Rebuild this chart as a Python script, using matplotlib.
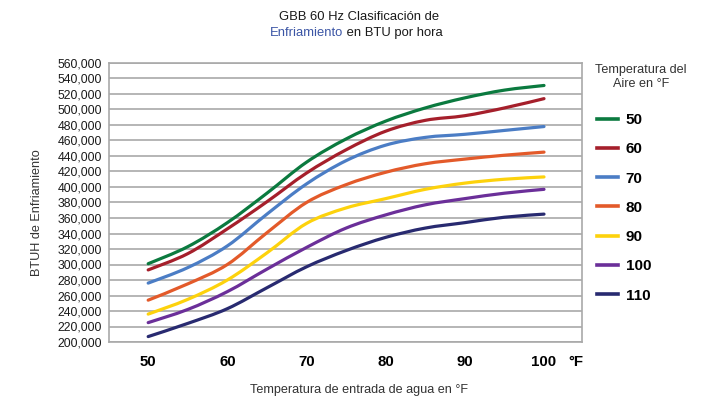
import matplotlib
matplotlib.use("Agg")
import matplotlib.pyplot as plt
from matplotlib.path import Path
from matplotlib.patches import PathPatch
from matplotlib.lines import Line2D
from matplotlib.ticker import FuncFormatter

plt.rcParams['font.family'] = ['Liberation Sans', 'DejaVu Sans']

# ---- data ----
water_temp = [50, 55, 60, 65, 70, 75, 80, 85, 90, 95, 100]
air_temps = ["50", "60", "70", "80", "90", "100", "110"]
btuh_50 = [301000, 323000, 354000, 392000, 432000, 462000, 485000, 502000, 515000, 525000, 531000]
btuh_60 = [293000, 314000, 346000, 381000, 418000, 448000, 472000, 486000, 492000, 502000, 514000]
btuh_70 = [276000, 296000, 324000, 365000, 404000, 434000, 454000, 464000, 468000, 473000, 478000]
btuh_80 = [254000, 275000, 300000, 341000, 380000, 403000, 419000, 430000, 436000, 441000, 445000]
btuh_90 = [236000, 255000, 280000, 315000, 353000, 373000, 385000, 397000, 405000, 410000, 413000]
btuh_100 = [225000, 242000, 265000, 294000, 322000, 347000, 364000, 377000, 385000, 392000, 397000]
btuh_110 = [207000, 224000, 243000, 270000, 297000, 318000, 335000, 347000, 354000, 361000, 365000]
series = [btuh_50, btuh_60, btuh_70, btuh_80, btuh_90, btuh_100, btuh_110]
colors = ["#0b7a3f", "#a51f2b", "#4b7dc5", "#e35a2a", "#fdd20c", "#6b2f99", "#282a70"]
x_ticks = [50, 60, 70, 80, 90, 100]
y_ticks = list(range(200000, 560001, 20000))


def smooth_path(xs, ys):
    """Catmull-Rom spline through the data points, as cubic Bezier segments."""
    pts = list(zip(xs, ys))
    verts = [pts[0]]
    codes = [Path.MOVETO]
    n = len(pts)
    for i in range(n - 1):
        p0 = pts[i - 1] if i > 0 else pts[i]
        p1 = pts[i]
        p2 = pts[i + 1]
        p3 = pts[i + 2] if i + 2 < n else pts[i + 1]
        c1 = (p1[0] + (p2[0] - p0[0]) / 6.0, p1[1] + (p2[1] - p0[1]) / 6.0)
        c2 = (p2[0] - (p3[0] - p1[0]) / 6.0, p2[1] - (p3[1] - p1[1]) / 6.0)
        verts += [c1, c2, p2]
        codes += [Path.CURVE4] * 3
    return Path(verts, codes)


fig = plt.figure(figsize=(7.15, 4.0), dpi=100)
ax = fig.add_axes([109 / 715, 1 - 342 / 400, (582 - 109) / 715, (342 - 63) / 400])

grid_col = "#a9a9a9"
ax.set_xlim(45.05, 104.8)
ax.set_ylim(200000, 560000)
ax.set_yticks(y_ticks)
ax.yaxis.set_major_formatter(FuncFormatter(lambda v, p: f"{int(v):,}"))
ax.set_xticks(x_ticks)
ax.tick_params(axis='y', length=0, pad=5, labelsize=8.8, labelcolor="#1a1a1a")
ax.tick_params(axis='x', length=0, pad=9.5, labelsize=10.8)
for lab in ax.get_xticklabels():
    lab.set_fontweight('bold')
ax.grid(axis='y', color=grid_col, linewidth=1.2)
ax.set_axisbelow(True)
for s in ax.spines.values():
    s.set_color(grid_col)
    s.set_linewidth(1.2)

handles = []
for vals, col, lab in zip(series, colors, air_temps):
    patch = PathPatch(smooth_path(water_temp, vals), facecolor='none', edgecolor=col,
                      linewidth=2.3, capstyle='round', zorder=3)
    ax.add_patch(patch)
    handles.append(Line2D([], [], color=col, linewidth=2.6, label=lab))

# °F unit label next to x ticks
fig.text(576 / 715, 1 - 362 / 400, "°F", ha='center', va='center', fontsize=10.8,
         fontweight='bold')

fig.text(359 / 715, 1 - 390 / 400, "Temperatura de entrada de agua en °F", ha='center',
         va='center', fontsize=9.1, color="#333333")
fig.text(37 / 715, 1 - 213 / 400, "BTUH de Enfriamiento", rotation=90, ha='center',
         va='center', fontsize=9.1, color="#333333")

# title
fig.text(359 / 715, 1 - 17 / 400, "GBB 60 Hz Clasificación de", ha='center', va='center',
         fontsize=9.4, color="#1a1a1a")
fig.canvas.draw()
r = fig.canvas.get_renderer()
t1 = fig.text(0, 1 - 33 / 400, "Enfriamiento", ha='left', va='center', fontsize=9.4,
              color="#3b55a5")
t2 = fig.text(0, 1 - 33 / 400, " en BTU por hora", ha='left', va='center', fontsize=9.4,
              color="#1a1a1a")
w1 = t1.get_window_extent(r).width
w2 = t2.get_window_extent(r).width
x0 = 356 - (w1 + w2) / 2
t1.set_x(x0 / 715)
t2.set_x((x0 + w1) / 715)

# legend
fig.text(641 / 715, 1 - 77 / 400, "Temperatura del\nAire en °F", ha='center', va='center',
         fontsize=9.1, color="#333333", linespacing=1.3)
leg = fig.legend(handles=handles, loc='upper left', bbox_to_anchor=(597 / 715, 1 - 113 / 400),
                 frameon=False, handlelength=1.37, handletextpad=0.5, labelspacing=1.0,
                 prop={'weight': 'bold', 'size': 11}, borderaxespad=0, borderpad=0)

fig.savefig("out.png", dpi=100)
